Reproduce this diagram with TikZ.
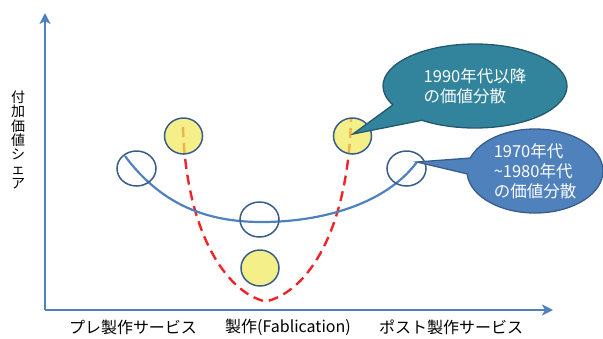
\documentclass[tikz,border=0pt]{standalone}
\usepackage{fontspec}
\setmainfont{Noto Sans CJK JP}
\usetikzlibrary{shapes.callouts,arrows.meta}
\definecolor{axisblue}{RGB}{79,129,189}
\definecolor{ringblue}{RGB}{56,93,138}
\definecolor{dashred}{RGB}{238,36,40}
\definecolor{dotyellow}{RGB}{240,233,91}
\definecolor{tealfill}{RGB}{49,132,155}
\definecolor{tealedge}{RGB}{35,89,108}
\definecolor{calloutblue}{RGB}{79,129,189}
\tikzset{
  axisline/.style={draw=axisblue,line width=2.4pt,-{Stealth[length=11pt,width=11pt,inset=3pt]}},
  ring/.style={draw=ringblue,line width=1.5pt},
  dot/.style={draw=ringblue,line width=1.5pt,fill=dotyellow,fill opacity=0.72},
  redcurve/.style={draw=dashred,line width=2.4pt,dash pattern=on 10pt off 6pt},
  bluecurve/.style={draw=axisblue,line width=2.2pt},
  axislabel/.style={font=\fontsize{16pt}{18pt}\selectfont,inner sep=0pt},
  callouttext/.style={ellipse callout,inner sep=0pt,text=white,align=left,
    font=\fontsize{16.5pt}{20pt}\selectfont,line width=1.3pt},
}
\begin{document}
\begin{tikzpicture}[x=1pt,y=-1pt]
\useasboundingbox (0,0) rectangle (603,338);
% axes
\coordinate (o) at (45,310);
\coordinate (ytip) at (45,13);
\coordinate (xtip) at (553,310);
\draw[axisline] (o) -- (ytip);
\draw[axisline] (o) -- (xtip);
% y label
\node[inner sep=0pt,align=center,font=\fontsize{14pt}{14.4pt}\selectfont] (ylab) at (18,140) {付\\加\\価\\値\\シ\\ェ\\ア};
% x labels
\node[axislabel] (xl1) at (133,327) {プレ製作サービス};
\node[axislabel] (xl2) at (288,327) {製作(Fablication)};
\node[axislabel] (xl3) at (451,327) {ポスト製作サービス};
% red dashed curve
\coordinate (r1) at (183,127);
\coordinate (rb) at (265.5,301.5);
\coordinate (r2) at (351,119);
\draw[redcurve] (r1) .. controls (186,230) and (225,292) .. (rb)
  .. controls (308,292) and (348,230) .. (r2);
% blue curve
\coordinate (b1) at (125,156);
\coordinate (bm) at (262,222);
\coordinate (b2) at (417,162);
\draw[bluecurve] (b1) .. controls (165,210) and (215,222) .. (bm)
  .. controls (320,222) and (385,205) .. (b2);
% open rings
\draw[ring] (136.5,168.5) ellipse [x radius=19.5, y radius=17.5];
\draw[ring] (259.5,219.5) ellipse [x radius=19.5, y radius=17.5];
\draw[ring] (406.5,168.5) ellipse [x radius=19.5, y radius=17.5];
% yellow dots
\path[dot] (183.5,136) ellipse [x radius=19, y radius=18];
\path[dot] (352.5,136) ellipse [x radius=19, y radius=18];
\path[dot] (260,268) ellipse [x radius=19, y radius=18];
% callouts
\coordinate (p1) at (353,134);
\coordinate (p2) at (417,162);
\node[callouttext,fill=tealfill,draw=tealedge,minimum width=184pt,minimum height=84pt,
  callout absolute pointer={(p1)},callout pointer arc=28] (c1) at (475,86) {1990年代以降\\の価値分散};
\node[callouttext,fill=calloutblue,draw=ringblue,minimum width=136pt,minimum height=84pt,
  callout absolute pointer={(p2)},callout pointer arc=22] (c2) at (535,171) {1970年代\\\textasciitilde1980年代\\の価値分散};
\end{tikzpicture}
\end{document}
